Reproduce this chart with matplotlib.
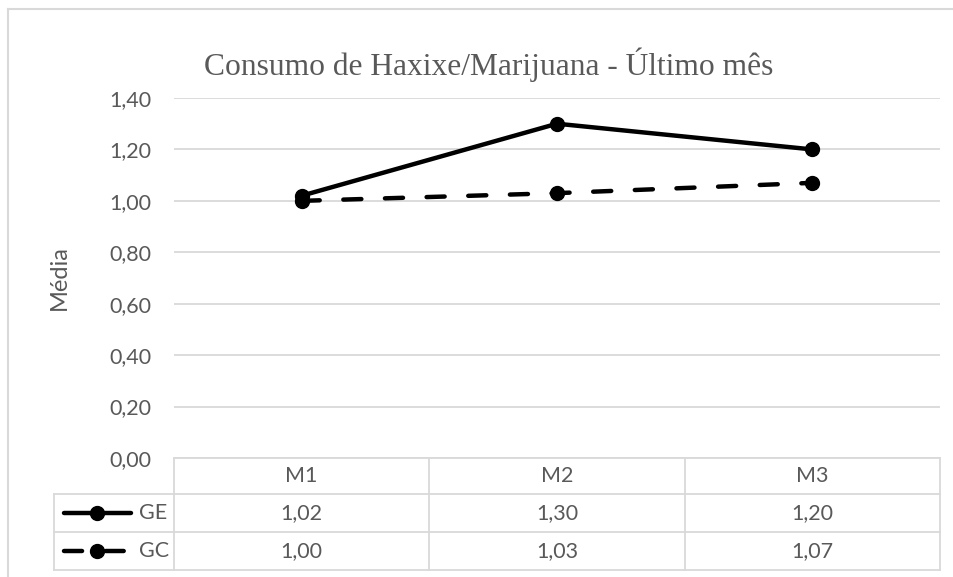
import matplotlib
matplotlib.use("Agg")
import matplotlib.pyplot as plt
from matplotlib.lines import Line2D

categories = ["M1", "M2", "M3"]
series_names = ["GE", "GC"]
ge_values = [1.02, 1.30, 1.20]
gc_values = [1.00, 1.03, 1.07]
y_ticks = [0.0, 0.2, 0.4, 0.6, 0.8, 1.0, 1.2, 1.4]

W, H = 954, 577
GRID = "#d9d9d9"
TXT = "#595959"
SANS = ["Lato", "DejaVu Sans"]
SERIF = ["Liberation Serif", "DejaVu Serif"]
LW = 3.2
DASH = (13.0, 17.0)
FS = 15.5

plt.rcParams["lines.scale_dashes"] = False


def fx(px):
    return px / W


def fy(py):
    return 1 - py / H


def fmt(v):
    return f"{v:.2f}".replace(".", ",")


fig = plt.figure(figsize=(W / 100, H / 100), dpi=100)

# plot area
left, right, top, bottom = 174, 940, 98, 458
ax = fig.add_axes([fx(left), fy(bottom), fx(right) - fx(left), fy(top) - fy(bottom)])
x = list(range(len(categories)))
ax.set_xlim(-0.5, len(categories) - 0.5)
ax.set_ylim(0, 1.4)
ax.set_yticks(y_ticks)
ax.set_yticklabels([fmt(t) for t in y_ticks], fontsize=FS, color=TXT, family=SANS)
ax.set_xticks([])
ax.tick_params(axis="y", length=0, pad=16.5)
for s in ax.spines.values():
    s.set_visible(False)
ax.grid(axis="y", color=GRID, lw=1.3)
ax.set_axisbelow(True)

ax.plot(x, ge_values, color="black", lw=LW, marker="o", ms=10,
        solid_capstyle="round", clip_on=False, zorder=3)
ax.plot(x, gc_values, color="black", lw=LW, marker="o", ms=10,
        linestyle=(0, DASH), dash_capstyle="round", clip_on=False, zorder=3)

fig.text(fx(59), fy(278), "Média", rotation=90, ha="center", va="center",
         fontsize=17, color=TXT, family=SANS)
fig.text(fx(489), fy(65), "Consumo de Haxixe/Marijuana - Último mês",
         ha="center", va="center", fontsize=22.7, color=TXT, family=SERIF)

# outer frame
fig.add_artist(Line2D([fx(8), fx(W)], [fy(8.5), fy(8.5)], color=GRID, lw=1.5))
fig.add_artist(Line2D([fx(8), fx(8)], [fy(8.5), fy(H)], color=GRID, lw=1.5))

# data table below the plot
col_edges = [left + (right - left) * i / len(categories) for i in range(len(categories) + 1)]
row_edges = [458, 494, 532, 570]
key_left = 54


def hline(y, x0, x1):
    fig.add_artist(Line2D([fx(x0), fx(x1)], [fy(y), fy(y)], color=GRID, lw=1.3))


def vline(x0, y0, y1):
    fig.add_artist(Line2D([fx(x0), fx(x0)], [fy(y0), fy(y1)], color=GRID, lw=1.3))


hline(row_edges[0], left, right)
for y in row_edges[1:]:
    hline(y, key_left, right)
for xe in col_edges:
    vline(xe, row_edges[0], row_edges[-1])
vline(key_left, row_edges[1], row_edges[-1])

for i, cat in enumerate(categories):
    cx = (col_edges[i] + col_edges[i + 1]) / 2
    fig.text(fx(cx), fy((row_edges[0] + row_edges[1]) / 2), cat, ha="center", va="center",
             fontsize=FS, color=TXT, family=SANS)

styles = [dict(linestyle="-"), dict(linestyle=(0, DASH), dash_capstyle="round")]
for r, (name, vals, st) in enumerate(zip(series_names, [ge_values, gc_values], styles)):
    cy = (row_edges[r + 1] + row_edges[r + 2]) / 2
    for i, v in enumerate(vals):
        cx = (col_edges[i] + col_edges[i + 1]) / 2
        fig.text(fx(cx), fy(cy), fmt(v), ha="center", va="center",
                 fontsize=FS, color=TXT, family=SANS)
    fig.add_artist(Line2D([fx(64), fx(131)], [fy(cy), fy(cy)], color="black", lw=LW,
                          solid_capstyle="round", **st))
    fig.add_artist(Line2D([fx(97)], [fy(cy)], color="black", marker="o", ms=10, lw=0))
    fig.text(fx(139), fy(cy), name, ha="left", va="center",
             fontsize=FS, color=TXT, family=SANS)

fig.savefig("out.png", dpi=100, facecolor="white")
